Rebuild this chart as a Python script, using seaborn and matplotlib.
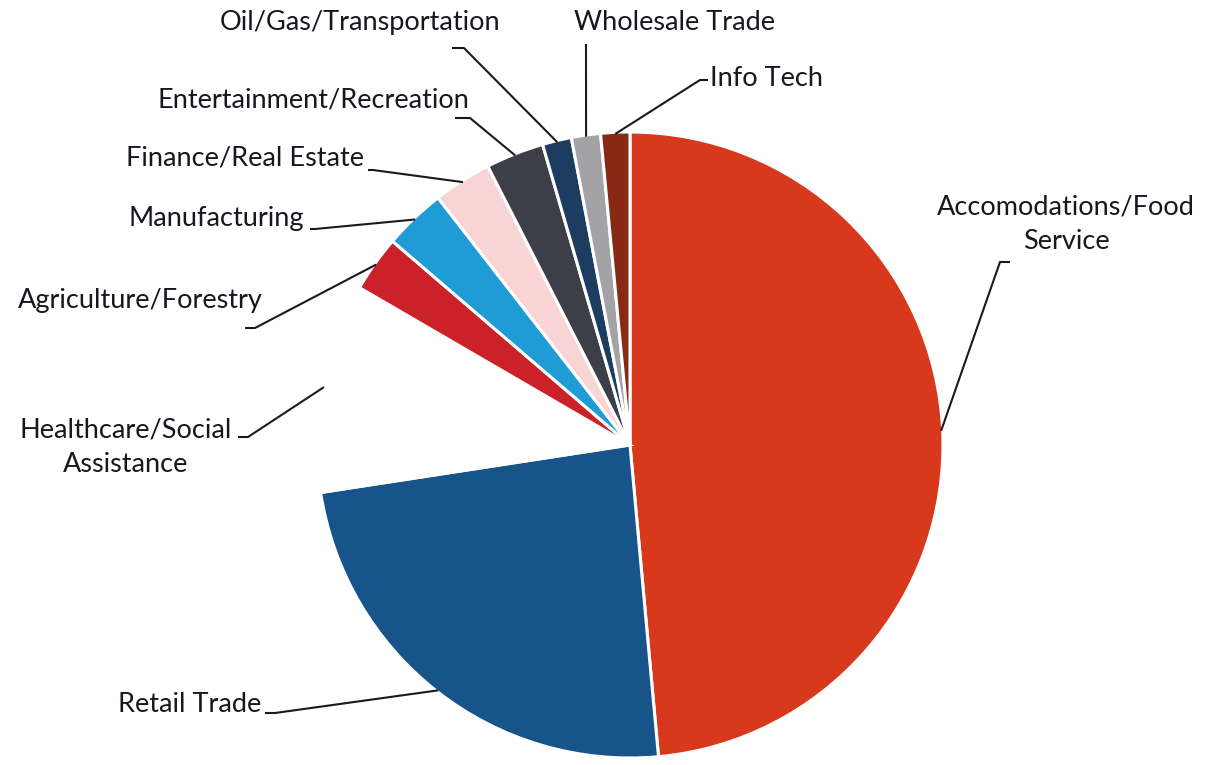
import numpy as np
import matplotlib
matplotlib.use("Agg")
import matplotlib.pyplot as plt
import seaborn as sns

# industry share of businesses (percent)
sectors = ["Accomodations/Food\nService", "Retail Trade", "Healthcare/Social\nAssistance",
           "Agriculture/Forestry", "Manufacturing", "Finance/Real Estate",
           "Entertainment/Recreation", "Oil/Gas/Transportation", "Wholesale Trade", "Info Tech"]
shares = [48.5, 24.0, 10.8, 2.9, 3.2, 3.0, 3.0, 1.5, 1.5, 1.5]
colors = ["#D8381B", "#17548A", "#FFFFFF", "#CB2129", "#1F9BD6", "#F8D4D5",
          "#3C3E48", "#1D3D60", "#A3A3A5", "#872914"]

# label layout in pixel space (top-left origin): text centre, leader start, stub length
label_xy = [(1066, 224), (190, 705), (126, 447), (140, 300), (216, 218),
            (245, 158), (313, 100), (360, 22), (675, 22), (766, 78)]
leader_start = [(1010, 262), (265, 713), (238, 437), (245, 328), (310, 229),
                (368, 170), (455, 118), (452, 48), (586, 44), (708, 80)]
stub = [-10, 10, 10, 10, 5, 5, 15, 12, 0, -8]

W, H = 1207, 765
CX, CY, R = 630, 445, 313

sns.set_theme(style="white")
plt.rcParams['font.family'] = ['Lato', 'DejaVu Sans']

fig = plt.figure(figsize=(W / 100, H / 100), dpi=100)
ax = fig.add_axes([0, 0, 1, 1])

wedges, _ = ax.pie(shares, colors=colors, startangle=90, counterclock=False,
                   center=(CX, H - CY), radius=R,
                   wedgeprops=dict(edgecolor="white", linewidth=2.2))
ax.set_xlim(0, W)
ax.set_ylim(0, H)
ax.set_aspect("equal")
ax.axis("off")

txt_col = "#15181f"
for w, lab, (tx, ty), (sx, sy), dx in zip(wedges, sectors, label_xy, leader_start, stub):
    mid = np.deg2rad((w.theta1 + w.theta2) / 2)
    px = CX + 0.995 * R * np.cos(mid)
    py = (H - CY) + 0.995 * R * np.sin(mid)
    ax.text(tx, H - ty, lab, ha="center", va="center", fontsize=19.5,
            color=txt_col, linespacing=1.5)
    ax.plot([sx, sx + dx, px], [H - sy, H - sy, py], color="#1a1a1a", lw=1.5,
            solid_capstyle="butt")

fig.savefig("out.png", dpi=100, facecolor="white")
